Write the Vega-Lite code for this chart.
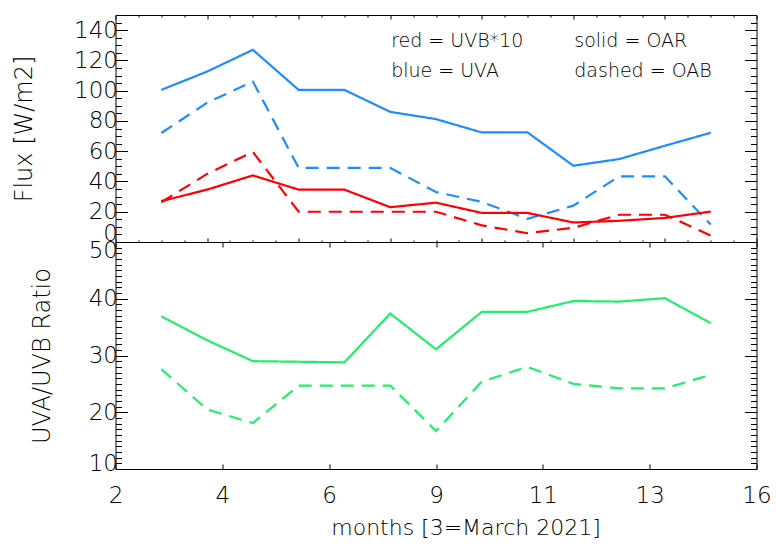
{
  "$schema": "https://vega.github.io/schema/vega-lite/v6.json",
  "autosize": {"type": "pad"},
  "padding": {"left": 11.5, "top": 11, "right": 19, "bottom": 6},
  "background": "white",
  "datasets": {
    "flux": [
      {"month": 3, "flux": 100.5, "band": "UVA", "site": "OAR"},
      {"month": 4, "flux": 112.6, "band": "UVA", "site": "OAR"},
      {"month": 5, "flux": 127, "band": "UVA", "site": "OAR"},
      {"month": 6, "flux": 100.5, "band": "UVA", "site": "OAR"},
      {"month": 7, "flux": 100.5, "band": "UVA", "site": "OAR"},
      {"month": 8, "flux": 86, "band": "UVA", "site": "OAR"},
      {"month": 9, "flux": 81.2, "band": "UVA", "site": "OAR"},
      {"month": 10, "flux": 72.4, "band": "UVA", "site": "OAR"},
      {"month": 11, "flux": 72.4, "band": "UVA", "site": "OAR"},
      {"month": 12, "flux": 50.4, "band": "UVA", "site": "OAR"},
      {"month": 13, "flux": 54.8, "band": "UVA", "site": "OAR"},
      {"month": 14, "flux": 63.6, "band": "UVA", "site": "OAR"},
      {"month": 15, "flux": 72.2, "band": "UVA", "site": "OAR"},
      {"month": 3, "flux": 72, "band": "UVA", "site": "OAB"},
      {"month": 4, "flux": 92, "band": "UVA", "site": "OAB"},
      {"month": 5, "flux": 106, "band": "UVA", "site": "OAB"},
      {"month": 6, "flux": 49, "band": "UVA", "site": "OAB"},
      {"month": 7, "flux": 49, "band": "UVA", "site": "OAB"},
      {"month": 8, "flux": 49, "band": "UVA", "site": "OAB"},
      {"month": 9, "flux": 33, "band": "UVA", "site": "OAB"},
      {"month": 10, "flux": 26.5, "band": "UVA", "site": "OAB"},
      {"month": 11, "flux": 15.3, "band": "UVA", "site": "OAB"},
      {"month": 12, "flux": 24, "band": "UVA", "site": "OAB"},
      {"month": 13, "flux": 43.4, "band": "UVA", "site": "OAB"},
      {"month": 14, "flux": 43.4, "band": "UVA", "site": "OAB"},
      {"month": 15, "flux": 11.5, "band": "UVA", "site": "OAB"},
      {"month": 3, "flux": 27, "band": "UVB", "site": "OAR"},
      {"month": 4, "flux": 34.6, "band": "UVB", "site": "OAR"},
      {"month": 5, "flux": 44, "band": "UVB", "site": "OAR"},
      {"month": 6, "flux": 34.6, "band": "UVB", "site": "OAR"},
      {"month": 7, "flux": 34.6, "band": "UVB", "site": "OAR"},
      {"month": 8, "flux": 23, "band": "UVB", "site": "OAR"},
      {"month": 9, "flux": 26, "band": "UVB", "site": "OAR"},
      {"month": 10, "flux": 19.2, "band": "UVB", "site": "OAR"},
      {"month": 11, "flux": 19.2, "band": "UVB", "site": "OAR"},
      {"month": 12, "flux": 12.9, "band": "UVB", "site": "OAR"},
      {"month": 13, "flux": 14, "band": "UVB", "site": "OAR"},
      {"month": 14, "flux": 15.9, "band": "UVB", "site": "OAR"},
      {"month": 15, "flux": 20.1, "band": "UVB", "site": "OAR"},
      {"month": 3, "flux": 26.3, "band": "UVB", "site": "OAB"},
      {"month": 4, "flux": 45, "band": "UVB", "site": "OAB"},
      {"month": 5, "flux": 59.5, "band": "UVB", "site": "OAB"},
      {"month": 6, "flux": 20, "band": "UVB", "site": "OAB"},
      {"month": 7, "flux": 20, "band": "UVB", "site": "OAB"},
      {"month": 8, "flux": 20, "band": "UVB", "site": "OAB"},
      {"month": 9, "flux": 20, "band": "UVB", "site": "OAB"},
      {"month": 10, "flux": 11, "band": "UVB", "site": "OAB"},
      {"month": 11, "flux": 5.8, "band": "UVB", "site": "OAB"},
      {"month": 12, "flux": 9.4, "band": "UVB", "site": "OAB"},
      {"month": 13, "flux": 18, "band": "UVB", "site": "OAB"},
      {"month": 14, "flux": 18, "band": "UVB", "site": "OAB"},
      {"month": 15, "flux": 4.3, "band": "UVB", "site": "OAB"}
    ],
    "ratio": [
      {"month": 3, "ratio": 36.9, "site": "OAR"},
      {"month": 4, "ratio": 32.7, "site": "OAR"},
      {"month": 5, "ratio": 29.0, "site": "OAR"},
      {"month": 6, "ratio": 28.9, "site": "OAR"},
      {"month": 7, "ratio": 28.8, "site": "OAR"},
      {"month": 8, "ratio": 37.4, "site": "OAR"},
      {"month": 9, "ratio": 31.1, "site": "OAR"},
      {"month": 10, "ratio": 37.7, "site": "OAR"},
      {"month": 11, "ratio": 37.7, "site": "OAR"},
      {"month": 12, "ratio": 39.6, "site": "OAR"},
      {"month": 13, "ratio": 39.5, "site": "OAR"},
      {"month": 14, "ratio": 40.1, "site": "OAR"},
      {"month": 15, "ratio": 35.7, "site": "OAR"},
      {"month": 3, "ratio": 27.6, "site": "OAB"},
      {"month": 4, "ratio": 20.5, "site": "OAB"},
      {"month": 5, "ratio": 18.1, "site": "OAB"},
      {"month": 6, "ratio": 24.7, "site": "OAB"},
      {"month": 7, "ratio": 24.7, "site": "OAB"},
      {"month": 8, "ratio": 24.7, "site": "OAB"},
      {"month": 9, "ratio": 16.7, "site": "OAB"},
      {"month": 10, "ratio": 25.4, "site": "OAB"},
      {"month": 11, "ratio": 28.0, "site": "OAB"},
      {"month": 12, "ratio": 25.0, "site": "OAB"},
      {"month": 13, "ratio": 24.2, "site": "OAB"},
      {"month": 14, "ratio": 24.2, "site": "OAB"},
      {"month": 15, "ratio": 26.6, "site": "OAB"}
    ],
    "notes": [
      {"month": 8.02, "flux": 133, "note": "red = UVB*10"},
      {"month": 8.02, "flux": 113.3, "note": "blue = UVA"},
      {"month": 12.02, "flux": 133, "note": "solid = OAR"},
      {"month": 12.02, "flux": 113.3, "note": "dashed = OAB"}
    ]
  },
  "spacing": 0,
  "bounds": "flush",
  "resolve": {"scale": {"x": "independent", "y": "independent"}, "axis": {"x": "independent", "y": "independent"}},
  "vconcat": [
    {
      "width": 641,
      "height": 227,
      "layer": [
        {
          "data": {"name": "flux"},
          "mark": {"type": "line", "strokeWidth": 2.2},
          "encoding": {
            "x": {"field": "month", "type": "quantitative", "scale": {"domain": [2, 16], "nice": false, "zero": false},
              "axis": {"orient": "bottom", "values": [2,2.5,3,3.5,4,4.5,5,5.5,6,6.5,7,7.5,8,8.5,9,9.5,10,10.5,11,11.5,12,12.5,13,13.5,14,14.5,15,15.5,16],
                "labels": false, "title": null,
                "tickSize": {"condition": {"test": "datum.value % 2 === 0", "value": -4}, "value": -2}}},
            "y": {"field": "flux", "type": "quantitative", "scale": {"domain": [0, 150], "nice": false, "zero": false},
              "axis": {"orient": "left", "values": [0,5,10,15,20,25,30,35,40,45,50,55,60,65,70,75,80,85,90,95,100,105,110,115,120,125,130,135,140,145],
                "labelExpr": "datum.value % 20 === 0 ? datum.label : ''",
                "labelPadding": 10,
                "labelOffset": {"condition": {"test": "datum.value === 0", "value": -9}, "value": 0},
                "tickSize": {"condition": {"test": "datum.value % 20 === 0", "value": -12}, "value": -6},
                "title": "Flux [W/m2]", "titleFontSize": 24, "titleAngle": 270, "titleAlign": "center", "titleBaseline": "middle", "titleX": -91, "titleY": 113.5}},
            "color": {"field": "band", "type": "nominal", "scale": {"domain": ["UVA", "UVB"], "range": ["#1E8CFF", "#FF0000"]}, "legend": null},
            "strokeDash": {"field": "site", "type": "nominal", "scale": {"domain": ["OAR", "OAB"], "range": [[1, 0], [13, 8]]}, "legend": null}
          }
        },
        {
          "data": {"name": "flux"},
          "mark": {"type": "point", "opacity": 0},
          "encoding": {
            "x": {"field": "month", "type": "quantitative", "scale": {"domain": [2, 16], "nice": false, "zero": false},
              "axis": {"orient": "top", "values": [2,2.5,3,3.5,4,4.5,5,5.5,6,6.5,7,7.5,8,8.5,9,9.5,10,10.5,11,11.5,12,12.5,13,13.5,14,14.5,15,15.5,16],
                "labels": false, "title": null,
                "tickSize": {"condition": {"test": "datum.value % 2 === 0", "value": -4}, "value": -2}}},
            "y": {"field": "flux", "type": "quantitative", "scale": {"domain": [0, 150], "nice": false, "zero": false},
              "axis": {"orient": "right", "values": [0,5,10,15,20,25,30,35,40,45,50,55,60,65,70,75,80,85,90,95,100,105,110,115,120,125,130,135,140,145],
                "labels": false, "title": null,
                "tickSize": {"condition": {"test": "datum.value % 20 === 0", "value": -12}, "value": -6}}}
          }
        },
        {
          "data": {"name": "notes"},
          "mark": {"type": "text", "align": "left", "baseline": "middle", "fontSize": 19, "font": "DejaVu Sans", "fontWeight": 300, "color": "black"},
          "encoding": {
            "x": {"field": "month", "type": "quantitative", "scale": {"domain": [2, 16], "nice": false, "zero": false}, "axis": null},
            "y": {"field": "flux", "type": "quantitative", "scale": {"domain": [0, 150], "nice": false, "zero": false}, "axis": null},
            "text": {"field": "note"}
          }
        }
      ],
      "resolve": {"axis": {"x": "independent", "y": "independent"}}
    },
    {
      "width": 641,
      "height": 227,
      "layer": [
        {
          "data": {"name": "ratio"},
          "mark": {"type": "line", "strokeWidth": 2.2, "color": "#1FF06A"},
          "encoding": {
            "x": {"field": "month", "type": "quantitative", "scale": {"domain": [2, 16], "nice": false, "zero": false},
              "axis": {"orient": "bottom", "values": [2, 4.333333333, 6.666666667, 9, 11.333333333, 13.666666667, 16],
                "labelExpr": "'' + floor(datum.value + 0.0001)", "labelPadding": 20, "tickSize": -5,
                "title": "months [3=March 2021]", "titleFontSize": 22, "titleAlign": "center", "titleBaseline": "middle", "titleX": 350, "titleY": 58}},
            "y": {"field": "ratio", "type": "quantitative", "scale": {"domain": [10, 50], "nice": false, "zero": false},
              "axis": {"orient": "left", "values": [10,11,12,13,14,15,16,17,18,19,20,21,22,23,24,25,26,27,28,29,30,31,32,33,34,35,36,37,38,39,40,41,42,43,44,45,46,47,48,49,50],
                "labelExpr": "datum.value % 10 === 0 ? datum.label : ''",
                "labelPadding": 10,
                "labelOffset": {"condition": [{"test": "datum.value === 50", "value": 8}, {"test": "datum.value === 10", "value": -6}], "value": 0},
                "tickSize": {"condition": {"test": "datum.value % 10 === 0", "value": -12}, "value": -6},
                "title": "UVA/UVB Ratio", "titleFontSize": 24, "titleAngle": 270, "titleAlign": "center", "titleBaseline": "middle", "titleX": -73, "titleY": 113.5}},
            "strokeDash": {"field": "site", "type": "nominal", "scale": {"domain": ["OAR", "OAB"], "range": [[1, 0], [13, 8]]}, "legend": null}
          }
        },
        {
          "data": {"name": "ratio"},
          "mark": {"type": "point", "opacity": 0},
          "encoding": {
            "x": {"field": "month", "type": "quantitative", "scale": {"domain": [2, 16], "nice": false, "zero": false},
              "axis": {"orient": "top", "values": [2, 4.333333333, 6.666666667, 9, 11.333333333, 13.666666667, 16],
                "labels": false, "title": null, "tickSize": -5}},
            "y": {"field": "ratio", "type": "quantitative", "scale": {"domain": [10, 50], "nice": false, "zero": false},
              "axis": {"orient": "right", "values": [10,11,12,13,14,15,16,17,18,19,20,21,22,23,24,25,26,27,28,29,30,31,32,33,34,35,36,37,38,39,40,41,42,43,44,45,46,47,48,49,50],
                "labels": false, "title": null,
                "tickSize": {"condition": {"test": "datum.value % 10 === 0", "value": -12}, "value": -6}}}
          }
        }
      ],
      "resolve": {"axis": {"x": "independent", "y": "independent"}}
    }
  ],
  "config": {
    "view": {"stroke": "black", "strokeWidth": 1},
    "axis": {
      "domain": false, "grid": false, "ticks": true, "tickColor": "black", "tickWidth": 1,
      "labelColor": "black", "titleColor": "black",
      "labelFont": "DejaVu Sans", "titleFont": "DejaVu Sans",
      "labelFontSize": 23, "titleFontSize": 23, "titleFontWeight": 300, "labelFontWeight": 300,
      "labelOverlap": false, "labelFlush": false, "labelBound": false
    }
  }
}
